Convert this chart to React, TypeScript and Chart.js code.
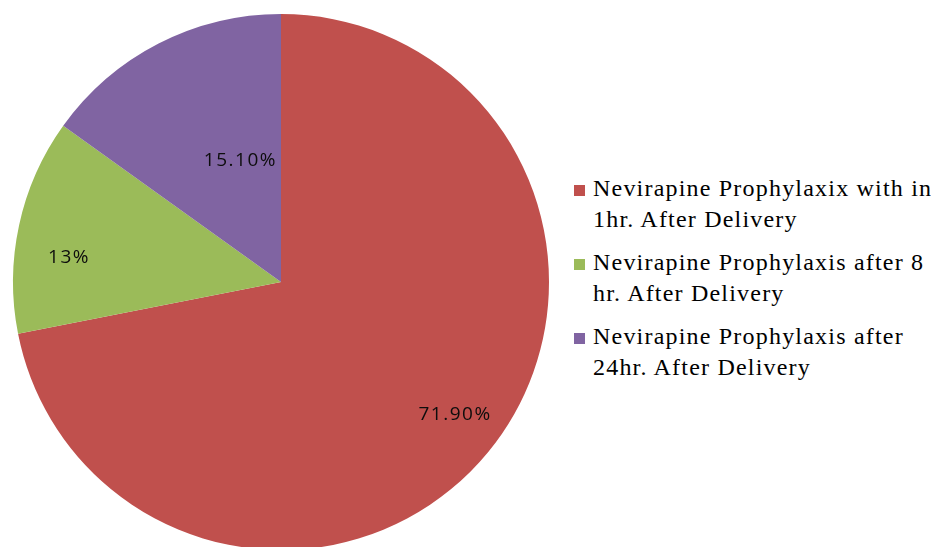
import React, { useEffect, useRef } from "react";
import { Chart, registerables } from "chart.js";

Chart.register(...registerables);

// Category names, one entry per legend row (two text lines each)
const categories: string[][] = [
  ["Nevirapine Prophylaxix with in", "1hr. After Delivery"],
  ["Nevirapine Prophylaxis after 8", "hr. After Delivery"],
  ["Nevirapine Prophylaxis after", "24hr. After Delivery"],
];

// Share of mothers in each group (%)
const shares: number[] = [71.9, 13, 15.1];

// Text printed on each slice
const shareLabels: string[] = ["71.90%", "13%", "15.10%"];

const sliceColors: string[] = ["#C0504D", "#9BBB59", "#8064A2"];

// Draws the percentage text inside each slice. Each label sits at a fraction of the
// slice's sweep (angleFrac) and a fraction of the outer radius (radial).
const sliceLabelPlugin = {
  id: "sliceLabels",
  afterDatasetsDraw(chart: any, _args: any, opts: any) {
    const ctx: CanvasRenderingContext2D = chart.ctx;
    const meta = chart.getDatasetMeta(0);
    ctx.save();
    ctx.font = opts.font;
    ctx.fillStyle = opts.color;
    ctx.textAlign = "center";
    ctx.textBaseline = "middle";
    (ctx as any).letterSpacing = opts.letterSpacing;
    meta.data.forEach((arc: any, i: number) => {
      const p = arc.getProps(["x", "y", "startAngle", "endAngle", "outerRadius"], true);
      const a = p.startAngle + (p.endAngle - p.startAngle) * opts.angleFrac[i];
      const r = p.outerRadius * opts.radial[i];
      ctx.fillText(opts.texts[i], p.x + Math.cos(a) * r, p.y + Math.sin(a) * r);
    });
    ctx.restore();
  },
};

export default function App() {
  const canvasRef = useRef<HTMLCanvasElement | null>(null);

  useEffect(() => {
    document.body.style.margin = "0";
    const canvas = canvasRef.current;
    if (!canvas) return;
    const chart = new Chart(canvas, {
      type: "pie",
      data: {
        labels: categories.map((c) => c.join(" ")),
        datasets: [
          {
            data: shares,
            backgroundColor: sliceColors,
            borderWidth: 0,
          },
        ],
      },
      options: {
        responsive: false,
        animation: false,
        layout: { padding: { left: 13, top: 14, right: 13, bottom: 10 } },
        plugins: {
          legend: { display: false },
          tooltip: { enabled: false },
          sliceLabels: {
            texts: shareLabels,
            angleFrac: [0.492, 0.376, 0.66],
            radial: [0.817, 0.796, 0.478],
            font: "19px 'Open Sans'",
            color: "#0d0d0d",
            letterSpacing: "1.5px",
          },
        } as any,
      },
      plugins: [sliceLabelPlugin],
    });
    return () => chart.destroy();
  }, []);

  return (
    <div
      style={{
        position: "relative",
        width: 931,
        height: 547,
        overflow: "hidden",
        background: "#ffffff",
      }}
    >
      <canvas
        ref={canvasRef}
        width={562}
        height={560}
        style={{ position: "absolute", left: 0, top: 0, width: 562, height: 560 }}
      />
      {categories.map((lines, i) => (
        <div
          key={i}
          style={{
            position: "absolute",
            left: 574,
            top: 173 + i * 74,
            fontFamily: "'Liberation Serif', 'Times New Roman', serif",
            fontSize: 24,
            letterSpacing: "1.2px",
            lineHeight: "31px",
            color: "#000",
            whiteSpace: "nowrap",
          }}
        >
          <span
            style={{
              position: "absolute",
              left: 0,
              top: 12,
              width: 11,
              height: 11,
              background: sliceColors[i],
            }}
          />
          <div style={{ marginLeft: 19 }}>
            {lines.map((line, j) => (
              <div key={j}>{line}</div>
            ))}
          </div>
        </div>
      ))}
    </div>
  );
}
